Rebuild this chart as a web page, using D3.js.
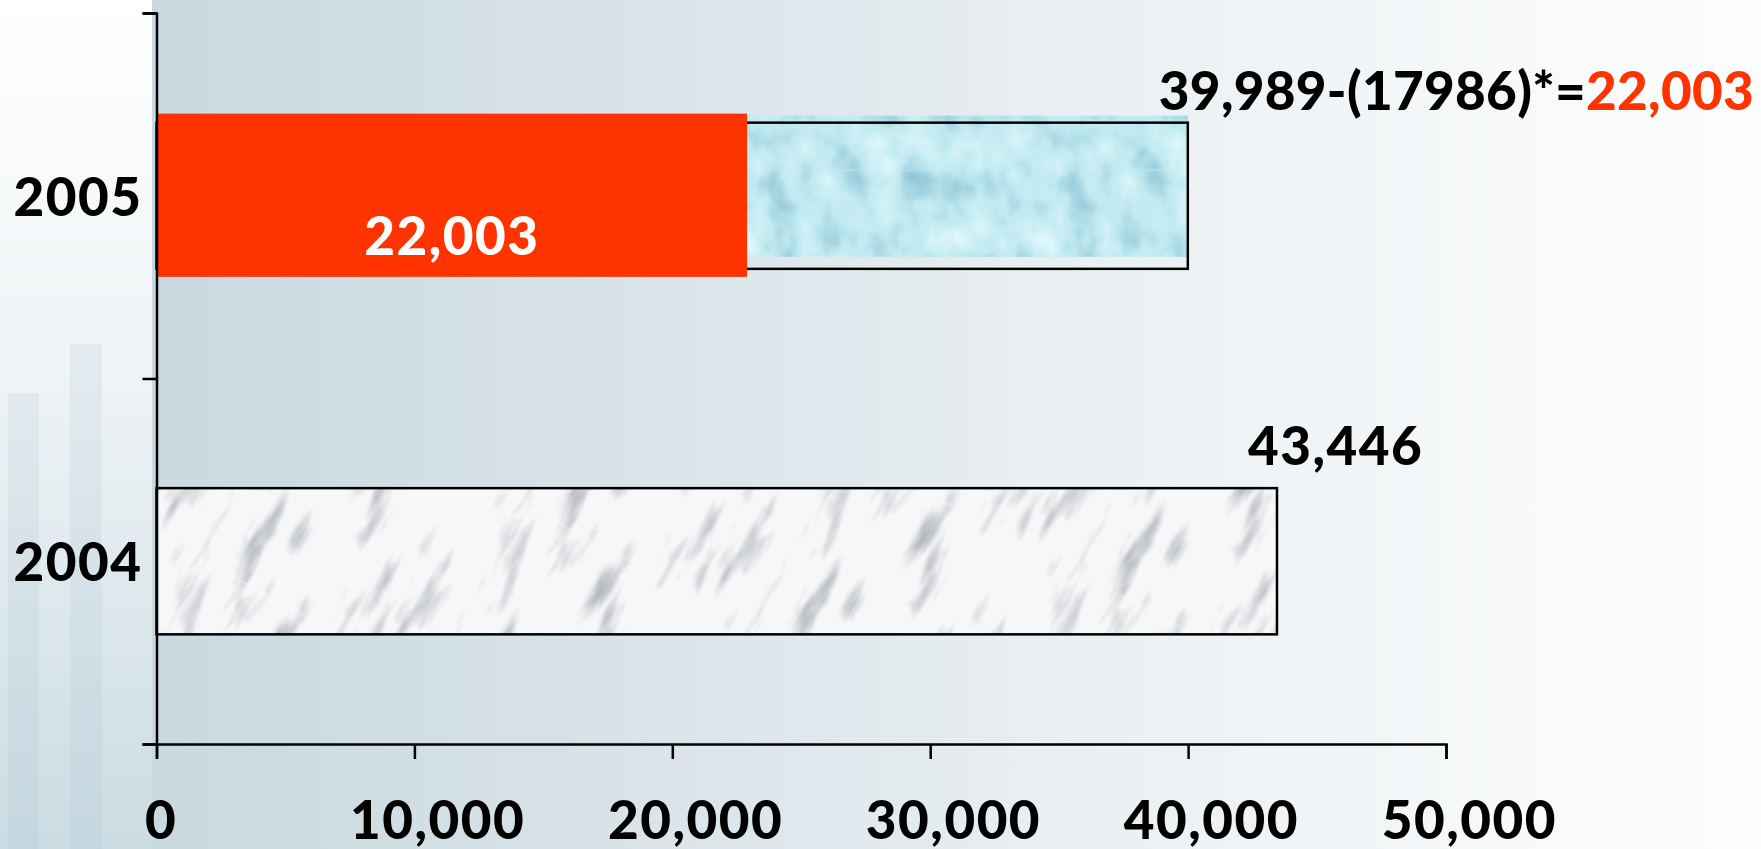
<!DOCTYPE html>
<html>
<head>
<meta charset="utf-8">
<script src="https://cdn.jsdelivr.net/npm/d3@7"></script>
<style>
  html, body { margin: 0; padding: 0; background: #ffffff; }
  svg { display: block; }
  .lbl { font-family: "Comic Sans MS", "Lato", "Open Sans", sans-serif; font-weight: 900; font-size: 53px; letter-spacing: 1.5px; }
  .formula { letter-spacing: 0.3px; }
</style>
</head>
<body>
<svg id="chart" width="1761" height="849"></svg>
<script>
// ---- data ----
const categories = ["2005", "2004"];
const totalValues = [39989, 43446];
const deductedValues = [17986, null];
const netValues = [22003, null];
// right edge of the red overlay block as it sits on the axis in the picture
const redBlockValues = [22900, null];
const xTickValues = [0, 10000, 20000, 30000, 40000, 50000];
const xDomain = [0, 50000];

const W = 1761, H = 849;
const svg = d3.select("#chart");
const defs = svg.append("defs");

// ---- background gradients ----
const gPlot = defs.append("linearGradient").attr("id", "bgPlot").attr("x1", "0").attr("x2", "1").attr("y1", "0").attr("y2", "0");
[[0, "#c8d9e0"], [0.3, "#d9e3e8"], [0.6, "#ebf0f3"], [0.85, "#f7f9fa"], [1, "#fcfdfd"]].forEach(([o, c]) =>
  gPlot.append("stop").attr("offset", o).attr("stop-color", c));
const gLeft = defs.append("linearGradient").attr("id", "bgLeft").attr("x1", "0").attr("x2", "0").attr("y1", "0").attr("y2", "1");
[[0, "#ffffff"], [0.45, "#eef3f5"], [1, "#cbdce3"]].forEach(([o, c]) =>
  gLeft.append("stop").attr("offset", o).attr("stop-color", c));

// ---- textures ----
const fm = defs.append("filter").attr("id", "marbleF").attr("x", 0).attr("y", 0).attr("width", 1).attr("height", 1)
  .attr("color-interpolation-filters", "sRGB");
fm.append("feTurbulence").attr("type", "fractalNoise").attr("baseFrequency", "0.045 0.012").attr("numOctaves", 4)
  .attr("seed", 11).attr("stitchTiles", "stitch").attr("result", "n");
fm.append("feColorMatrix").attr("in", "n").attr("type", "matrix")
  .attr("values", "0 0 0 0 0.55  0 0 0 0 0.57  0 0 0 0 0.61  -2.4 0 0 0 1.05").attr("result", "veins");
fm.append("feGaussianBlur").attr("in", "veins").attr("stdDeviation", 1.3).attr("result", "veinsB");
const fmm = fm.append("feMerge");
fmm.append("feMergeNode").attr("in", "SourceGraphic");
fmm.append("feMergeNode").attr("in", "veinsB");

const marble = defs.append("pattern").attr("id", "marble").attr("patternUnits", "userSpaceOnUse")
  .attr("width", 260).attr("height", 200).attr("patternTransform", "rotate(28)");
marble.append("rect").attr("width", 260).attr("height", 200).attr("fill", "#f6f7f8").attr("filter", "url(#marbleF)");

const fw = defs.append("filter").attr("id", "waterF").attr("x", 0).attr("y", 0).attr("width", 1).attr("height", 1)
  .attr("color-interpolation-filters", "sRGB");
fw.append("feTurbulence").attr("type", "fractalNoise").attr("baseFrequency", "0.03 0.026").attr("numOctaves", 3)
  .attr("seed", 5).attr("stitchTiles", "stitch").attr("result", "n");
fw.append("feColorMatrix").attr("in", "n").attr("type", "matrix")
  .attr("values", "0 0 0 0 0.55  0 0 0 0 0.76  0 0 0 0 0.84  2.4 0 0 0 -1.22").attr("result", "drops");
fw.append("feColorMatrix").attr("in", "n").attr("type", "matrix")
  .attr("values", "0 0 0 0 0.90  0 0 0 0 0.98  0 0 0 0 1  -2.6 0 0 0 1.15").attr("result", "lights");
fw.append("feGaussianBlur").attr("in", "drops").attr("stdDeviation", 0.8).attr("result", "dropsB");
const fwm = fw.append("feMerge");
fwm.append("feMergeNode").attr("in", "SourceGraphic");
fwm.append("feMergeNode").attr("in", "dropsB");
fwm.append("feMergeNode").attr("in", "lights");

const water = defs.append("pattern").attr("id", "water").attr("patternUnits", "userSpaceOnUse")
  .attr("width", 300).attr("height", 170);
water.append("rect").attr("width", 300).attr("height", 170).attr("fill", "#c3ebf1").attr("filter", "url(#waterF)");

// ---- backgrounds ----
svg.append("rect").attr("x", 0).attr("y", 0).attr("width", 153).attr("height", H).attr("fill", "url(#bgLeft)");
svg.append("rect").attr("x", 8).attr("y", 393).attr("width", 31).attr("height", H - 393).attr("fill", "#9fbccb").attr("opacity", 0.16);
svg.append("rect").attr("x", 70).attr("y", 344).attr("width", 32).attr("height", H - 344).attr("fill", "#9fbccb").attr("opacity", 0.16);
svg.append("rect").attr("x", 152).attr("y", 0).attr("width", W - 152).attr("height", H).attr("fill", "url(#bgPlot)");

// ---- scales ----
const x = d3.scaleLinear().domain(xDomain).range([156.5, 1446]);
const y = d3.scaleBand().domain(categories).range([13, 744]).paddingInner(0.6).paddingOuter(0.3);
const yEdge = d3.scaleLinear().domain([0, categories.length]).range([13, 744]);
const bw = y.bandwidth();
const fmt = d3.format(",");

const rows = categories.map((c, i) => ({
  cat: c, total: totalValues[i], deducted: deductedValues[i], net: netValues[i], red: redBlockValues[i], i
}));

// ---- bars ----
const bars = svg.append("g");
bars.selectAll("rect.tex").data(rows).join("rect").attr("class", "tex")
  .attr("x", x(0))
  .attr("y", d => y(d.cat) + (d.i === 0 ? -7 : 0))
  .attr("width", d => x(d.total) - x(0))
  .attr("height", d => bw - (d.i === 0 ? 5 : 0))
  .attr("fill", d => d.i === 0 ? "url(#water)" : "url(#marble)");
bars.selectAll("rect.brd").data(rows).join("rect").attr("class", "brd")
  .attr("x", x(0))
  .attr("y", d => y(d.cat))
  .attr("width", d => x(d.total) - x(0))
  .attr("height", bw)
  .attr("fill", "none").attr("stroke", "#000").attr("stroke-width", 2.5);

const redRows = rows.filter(d => d.red != null);
bars.selectAll("rect.red").data(redRows).join("rect").attr("class", "red")
  .attr("x", x(0))
  .attr("y", d => y(d.cat) - 9)
  .attr("width", d => x(d.red) - x(0))
  .attr("height", bw + 17)
  .attr("fill", "#ff3300");

// white net label inside red block
bars.selectAll("text.net").data(redRows).join("text").attr("class", "lbl net")
  .attr("x", d => (x(0) + x(d.red)) / 2)
  .attr("y", d => y(d.cat) + bw + 8 - 22)
  .attr("text-anchor", "middle").attr("fill", "#ffffff")
  .text(d => fmt(d.net));

// value labels above bars
const vl = svg.append("g");
rows.forEach(d => {
  const t = vl.append("text").attr("class", d.deducted != null ? "lbl formula" : "lbl")
    .attr("x", x(d.total) - 29)
    .attr("y", y(d.cat) - (d.deducted != null ? 13 : 23))
    .attr("fill", "#000");
  if (d.deducted != null) {
    t.append("tspan").text(`${fmt(d.total)}-(${d.deducted})*=`);
    t.append("tspan").attr("fill", "#ff3300").text(fmt(d.net));
  } else {
    t.text(fmt(d.total));
  }
});

// ---- axes ----
const xAxis = svg.append("g").attr("transform", `translate(0,744)`)
  .call(d3.axisBottom(x).tickValues(xTickValues).tickFormat(fmt).tickSize(15).tickSizeOuter(15).tickPadding(42));
xAxis.selectAll("path, line").attr("stroke", "#000").attr("stroke-width", 2.5);
xAxis.attr("font-size", null).attr("font-family", null);
xAxis.selectAll("text").attr("class", "lbl").attr("fill", "#000")
  .each(function () { d3.select(this).attr("dx", this.getComputedTextLength() * 0.13); });

const yTicks = svg.append("g").attr("transform", `translate(156.5,0)`)
  .call(d3.axisLeft(yEdge).tickValues(d3.range(categories.length + 1)).tickFormat("").tickSize(14).tickSizeOuter(14));
yTicks.selectAll("path, line").attr("stroke", "#000").attr("stroke-width", 2.5);

const yLabels = svg.append("g").attr("transform", `translate(156.5,0)`)
  .call(d3.axisLeft(y).tickSize(0).tickPadding(14));
yLabels.select(".domain").remove();
yLabels.attr("font-size", null).attr("font-family", null);
yLabels.selectAll("text").attr("class", "lbl").attr("fill", "#000").attr("dy", "0.38em");
</script>
</body>
</html>
